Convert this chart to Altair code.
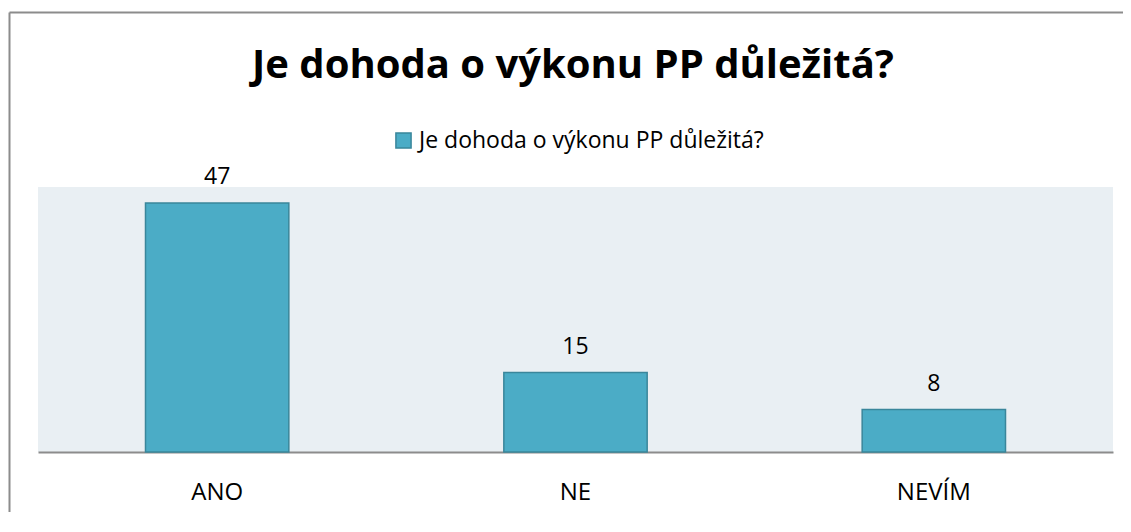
import altair as alt
import pandas as pd

categories = ["ANO", "NE", "NEVÍM"]
values = [47, 15, 8]
series_name = "Je dohoda o výkonu PP důležitá?"
title_text = "Je dohoda o výkonu PP důležitá?"

df = pd.DataFrame({"kategorie": categories, "pocet": values, "serie": [series_name] * len(categories)})
title_df = pd.DataFrame({"titulek": [title_text]})
frame_df = pd.DataFrame({"k": [0]})

FONT = "Open Sans"

x_enc = alt.X("kategorie:N", sort=categories,
              scale=alt.Scale(paddingInner=0.6, paddingOuter=0.3),
              axis=alt.Axis(title=None, labelAngle=0, ticks=False, domain=True,
                            domainColor="#8c8c8c", domainWidth=2,
                            labelFont=FONT, labelFontSize=24, labelColor="#000000",
                            labelPadding=28, grid=False))
y_enc = alt.Y("pocet:Q", scale=alt.Scale(domain=[0, 50], nice=False), axis=None)

bars = alt.Chart(df).mark_bar(color="#4BACC6", stroke="#3A869B", strokeWidth=1.5).encode(
    x=x_enc, y=y_enc,
    color=alt.Color("serie:N", scale=alt.Scale(range=["#4BACC6"]),
                    legend=alt.Legend(title=None, orient="none", legendX=354, legendY=-58,
                                      symbolType="square", symbolSize=230,
                                      symbolStrokeColor="#3A869B", symbolStrokeWidth=1.5,
                                      labelFont=FONT, labelFontSize=23, labelColor="#000000",
                                      labelOffset=4, labelLimit=0))
)

labels = alt.Chart(df).mark_text(font=FONT, fontSize=23, baseline="alphabetic", dy=-19, color="#000000").encode(
    x=alt.X("kategorie:N", sort=categories), y=alt.Y("pocet:Q"), text=alt.Text("pocet:Q")
)

title_mark = alt.Chart(title_df).mark_text(font=FONT, fontSize=40, fontWeight="bold", color="#000000",
                                           align="center", baseline="alphabetic").encode(
    x=alt.value(535), y=alt.value(-109), text="titulek:N"
)

frame_top = alt.Chart(frame_df).mark_rule(color="#8c8c8c", strokeWidth=2).encode(
    x=alt.value(-28.5), x2=alt.value(1100), y=alt.value(-174.5)
)
frame_left = alt.Chart(frame_df).mark_rule(color="#8c8c8c", strokeWidth=2).encode(
    x=alt.value(-28.5), y=alt.value(-174.5), y2=alt.value(400)
)

chart = alt.layer(bars, labels, title_mark, frame_top, frame_left).properties(
    width=1075, height=265,
    autosize=alt.AutoSizeParams(type="none"),
    padding={"left": 30, "top": 179, "right": 10, "bottom": 60},
).configure(background="#ffffff").configure_view(fill="#E9EFF3", stroke=None)

chart.save("out.html", embed_options={"renderer": "svg", "actions": False})
